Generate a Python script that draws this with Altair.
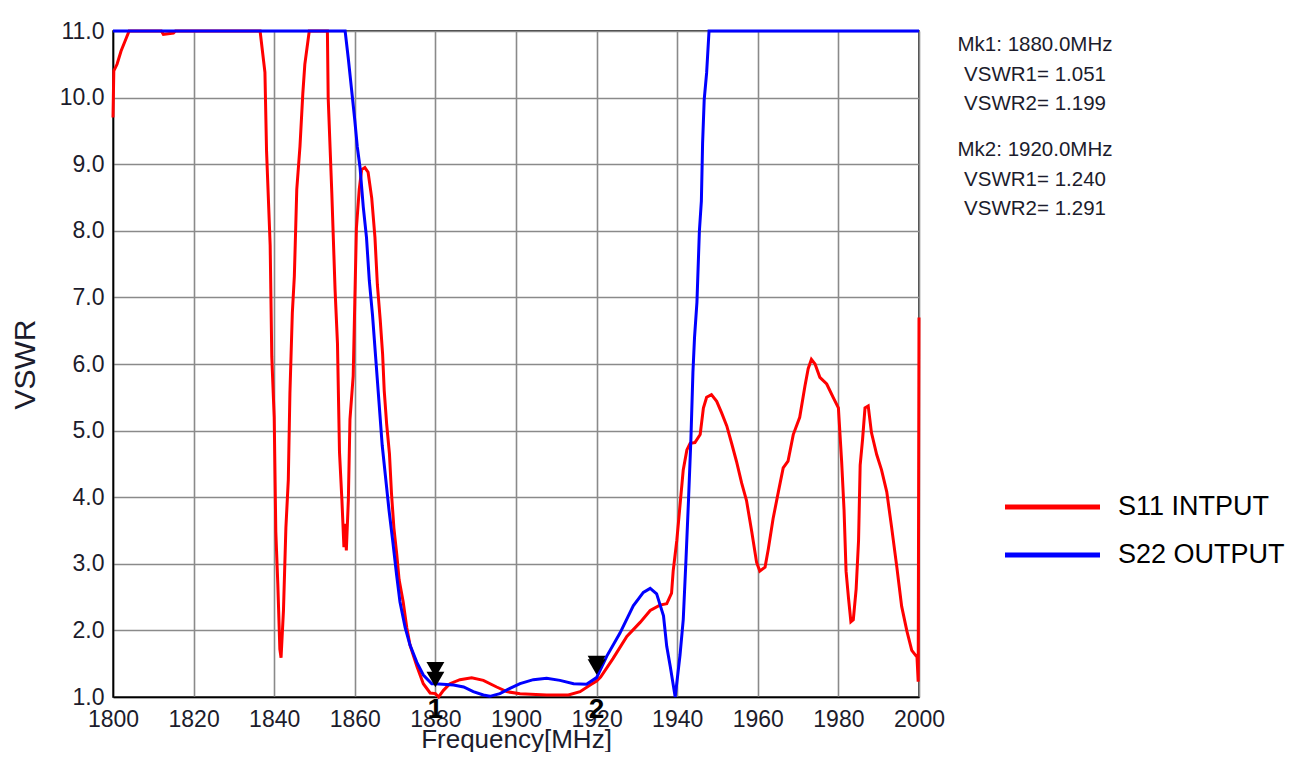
import altair as alt
import pandas as pd

# ---------------- data ----------------
freq_s11 = [1800.0, 1800.2, 1801.0, 1802.0, 1803.0, 1804.0, 1812.0, 1812.5, 1815.0, 1815.5,
            1836.5, 1837.7, 1838.1, 1839.0, 1839.4, 1840.0, 1840.4, 1840.9, 1841.4, 1841.7,
            1842.3, 1842.9, 1843.5, 1843.9, 1844.5, 1845.0, 1845.6, 1846.4, 1847.1, 1847.6,
            1848.7, 1853.2, 1853.4, 1854.3, 1855.1, 1855.7, 1856.2, 1856.8, 1857.3, 1857.6,
            1857.9, 1858.4, 1858.8, 1859.6, 1860.0, 1860.4, 1861.1, 1861.7, 1862.5, 1863.3,
            1864.2, 1865.0, 1865.6, 1866.3, 1866.9, 1867.3, 1867.9, 1868.6, 1869.1, 1869.7,
            1870.4, 1871.0, 1872.0, 1872.9, 1873.7, 1875.4, 1877.0, 1878.7, 1880.0, 1880.8,
            1882.0, 1883.6, 1886.1, 1889.0, 1891.9, 1895.2, 1897.7, 1901.0, 1907.6, 1913.0,
            1915.9, 1918.4, 1920.0, 1921.0, 1924.1, 1927.5, 1930.8, 1933.3, 1935.7, 1937.4,
            1938.6, 1939.0, 1939.9, 1940.7, 1941.5, 1942.4, 1943.2, 1944.4, 1945.7, 1946.5,
            1947.3, 1948.5, 1949.8, 1951.0, 1952.3, 1953.5, 1954.7, 1956.0, 1957.2, 1958.5,
            1959.7, 1960.5, 1961.8, 1962.6, 1963.8, 1965.1, 1966.3, 1967.5, 1968.8, 1970.4,
            1971.7, 1972.5, 1973.3, 1974.2, 1975.4, 1977.1, 1978.7, 1980.0, 1980.8, 1981.4,
            1981.9, 1982.5, 1983.1, 1983.7, 1984.4, 1985.0, 1985.4, 1986.0, 1986.6, 1987.4,
            1988.2, 1989.5, 1990.7, 1992.0, 1993.2, 1994.5, 1995.7, 1997.0, 1998.2, 1999.5,
            1999.8, 2000.0]
vswr_s11 = [9.70, 10.40, 10.50, 10.70, 10.85, 11.00, 11.00, 10.95, 10.97, 11.00,
            11.00, 10.38, 9.20, 7.78, 6.11, 5.20, 3.48, 2.69, 1.72, 1.59,
            2.30, 3.54, 4.26, 5.56, 6.77, 7.32, 8.62, 9.27, 10.06, 10.50,
            11.00, 11.00, 9.99, 8.56, 7.12, 6.31, 4.68, 3.96, 3.25, 3.60,
            3.20, 3.96, 5.17, 5.82, 6.93, 8.04, 8.62, 8.92, 8.95, 8.88,
            8.49, 7.90, 7.19, 6.67, 6.15, 5.60, 5.10, 4.65, 4.06, 3.54,
            3.15, 2.76, 2.43, 2.04, 1.78, 1.46, 1.20, 1.06, 1.051, 1.00,
            1.10, 1.20, 1.26, 1.29, 1.25, 1.15, 1.08, 1.05, 1.03, 1.03,
            1.08, 1.18, 1.24, 1.30, 1.58, 1.91, 2.12, 2.30, 2.38, 2.40,
            2.56, 2.89, 3.35, 3.88, 4.41, 4.71, 4.81, 4.82, 4.94, 5.34,
            5.50, 5.54, 5.44, 5.27, 5.07, 4.81, 4.54, 4.21, 3.95, 3.48,
            3.02, 2.89, 2.95, 3.22, 3.68, 4.08, 4.44, 4.54, 4.94, 5.20,
            5.67, 5.93, 6.07, 6.00, 5.80, 5.70, 5.50, 5.34, 4.54, 3.81,
            2.89, 2.49, 2.13, 2.16, 2.62, 3.35, 4.48, 4.87, 5.34, 5.37,
            4.97, 4.64, 4.41, 4.08, 3.55, 2.95, 2.36, 1.99, 1.70, 1.60,
            1.23, 6.70]

freq_s22 = [1800.0, 1857.6, 1858.4, 1859.2, 1860.0, 1860.6, 1861.3, 1862.1, 1862.9, 1863.6,
            1864.4, 1865.2, 1866.0, 1866.8, 1867.7, 1868.5, 1869.4, 1870.4, 1871.2, 1872.5,
            1873.7, 1875.4, 1877.0, 1879.1, 1880.0, 1884.5, 1887.0, 1889.4, 1891.9, 1893.5,
            1896.0, 1898.5, 1901.0, 1904.3, 1907.6, 1910.9, 1914.3, 1917.5, 1920.0, 1922.5,
            1925.8, 1929.1, 1931.6, 1933.3, 1934.9, 1936.6, 1937.4, 1938.3, 1939.5, 1940.7,
            1941.5, 1942.2, 1942.8, 1943.4, 1943.9, 1944.3, 1944.9, 1945.5, 1946.0, 1946.3,
            1946.7, 1947.3, 1947.9, 2000.0]
vswr_s22 = [11.00, 11.00, 10.58, 10.12, 9.66, 9.27, 8.95, 8.36, 7.90, 7.25,
            6.73, 6.08, 5.43, 4.78, 4.26, 3.80, 3.35, 2.82, 2.43, 2.04,
            1.78, 1.52, 1.33, 1.20, 1.199, 1.18, 1.15, 1.08, 1.03, 1.01,
            1.05, 1.13, 1.20, 1.26, 1.28, 1.25, 1.20, 1.19, 1.291, 1.61,
            1.96, 2.37, 2.57, 2.63, 2.55, 2.22, 1.76, 1.45, 1.00, 1.63,
            2.16, 3.09, 3.95, 4.87, 5.87, 6.40, 6.93, 7.99, 8.45, 9.31,
            9.97, 10.37, 11.00, 11.00]

series_names = ["S11 INTPUT", "S22 OUTPUT"]
series_colors = ["#ff0000", "#0000ff"]

x_ticks = [1800, 1820, 1840, 1860, 1880, 1900, 1920, 1940, 1960, 1980, 2000]
y_ticks = [1.0, 2.0, 3.0, 4.0, 5.0, 6.0, 7.0, 8.0, 9.0, 10.0, 11.0]

marker_labels = ["1", "2"]
marker_freq = [1880.0, 1920.0]
marker_vswr1 = [1.051, 1.240]
marker_vswr2 = [1.199, 1.291]

FONT = "Liberation Sans"
TEXT_COLOR = "#1c1c2c"

# ---------------- tables ----------------
rows = []
for name, fs, vs in [(series_names[0], freq_s11, vswr_s11), (series_names[1], freq_s22, vswr_s22)]:
    for i, (f, v) in enumerate(zip(fs, vs)):
        rows.append({"series": name, "freq": f, "vswr": v, "idx": i})
df = pd.DataFrame(rows)

mk_rows = []
for f, v1, v2 in zip(marker_freq, marker_vswr1, marker_vswr2):
    mk_rows.append({"freq": f, "vswr": v1})
    mk_rows.append({"freq": f, "vswr": v2})
df_mk = pd.DataFrame(mk_rows)
df_lbl = pd.DataFrame({"freq": marker_freq, "label": marker_labels, "base": [1.0] * len(marker_freq)})

xs = alt.Scale(domain=[1800, 2000], nice=False, zero=False)
ys = alt.Scale(domain=[1, 11], nice=False, zero=False)

x_axis = alt.Axis(values=x_ticks, format="d", title="Frequency[MHz]", labelFontSize=23,
                  titleFontSize=26, titleFontWeight="normal", labelPadding=11, titleY=42,
                  titleBaseline="middle", ticks=False, labelFlush=False, labelOverlap=False)
y_axis = alt.Axis(values=y_ticks, format=".1f", title="VSWR", labelFontSize=23,
                  titleFontSize=30, titleFontWeight="normal", labelPadding=9, titleX=-88,
                  titleY=333, titleBaseline="middle", titleAngle=270, ticks=False,
                  labelFlush=False, labelOverlap=False)

lines = alt.Chart(df).mark_line(strokeWidth=3).encode(
    x=alt.X("freq:Q", scale=xs, axis=x_axis),
    y=alt.Y("vswr:Q", scale=ys, axis=y_axis),
    color=alt.Color("series:N", scale=alt.Scale(domain=series_names, range=series_colors), legend=None),
    order=alt.Order("idx:Q"),
)

markers = alt.Chart(df_mk).mark_point(shape="triangle-down", filled=True, size=320,
                                      color="black", opacity=1, yOffset=-14).encode(
    x=alt.X("freq:Q", scale=xs),
    y=alt.Y("vswr:Q", scale=ys),
)

mk_text = alt.Chart(df_lbl).mark_text(fontSize=28, fontWeight="bold", color="black",
                                      font=FONT, baseline="middle", align="center", dy=13).encode(
    x=alt.X("freq:Q", scale=xs),
    y=alt.Y("base:Q", scale=ys),
    text="label:N",
)

layers = [lines, markers, mk_text]

one = pd.DataFrame({"a": [0]})
block_y = [14, 119]
for i in range(len(marker_freq)):
    txt = [f"Mk{i+1}: {marker_freq[i]:.1f}MHz",
           f"VSWR1= {marker_vswr1[i]:.3f}",
           f"VSWR2= {marker_vswr2[i]:.3f}"]
    layers.append(alt.Chart(one).mark_text(text=txt, lineHeight=29.5, fontSize=20.5, font=FONT,
                                           color=TEXT_COLOR, align="center", baseline="middle").encode(
        x=alt.value(922), y=alt.value(block_y[i])))

for i, (name, col) in enumerate(zip(series_names, series_colors)):
    yy = 476 + 48 * i
    layers.append(alt.Chart(one).mark_rule(strokeWidth=5, color=col).encode(
        x=alt.value(892), x2=alt.value(987), y=alt.value(yy)))
    layers.append(alt.Chart(one).mark_text(text=name, fontSize=27, font=FONT, color="black",
                                           align="left", baseline="middle").encode(
        x=alt.value(1005), y=alt.value(yy)))

chart = alt.layer(*layers).properties(
    width=806, height=666,
    padding={"left": 105, "top": 23, "right": 369, "bottom": 55},
    autosize=alt.AutoSizeParams(type="none"),
    background="white",
).configure_view(stroke="black", strokeWidth=1.5).configure_axis(
    labelFont=FONT, titleFont=FONT, labelColor=TEXT_COLOR, titleColor=TEXT_COLOR,
    domainColor="black", domainWidth=1.5, gridColor="#8a8a8a", gridWidth=1.6, gridOpacity=1,
)

chart.save("out.html", embed_options={"renderer": "svg", "actions": False})
